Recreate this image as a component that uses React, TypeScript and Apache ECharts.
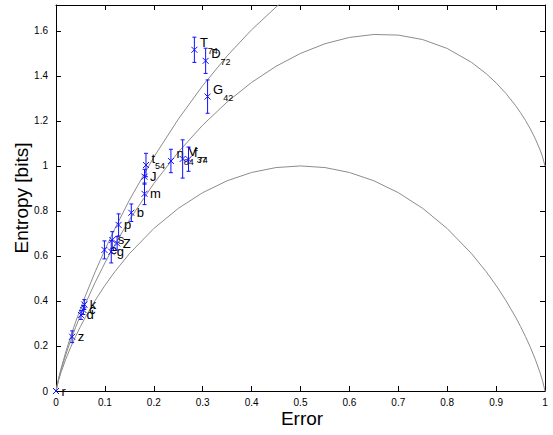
import React, { useEffect, useRef } from "react";
import * as echarts from "echarts";

// Theoretical bound curves (sampled values)
const errGrid = [0, 0.005, 0.01, 0.02, 0.03, 0.04, 0.05, 0.06, 0.08, 0.1, 0.12, 0.15, 0.2, 0.25, 0.3, 0.35, 0.4, 0.45, 0.5, 0.55, 0.6, 0.65, 0.7, 0.75, 0.8, 0.85, 0.88, 0.9, 0.92, 0.94, 0.95, 0.96, 0.97, 0.98, 0.99, 0.995, 1];
const boundM2 = [0, 0.04541, 0.08079, 0.14144, 0.19439, 0.24229, 0.2864, 0.32744, 0.40218, 0.469, 0.52936, 0.60984, 0.72193, 0.81128, 0.88129, 0.93407, 0.97095, 0.99277, 1, 0.99277, 0.97095, 0.93407, 0.88129, 0.81128, 0.72193, 0.60984, 0.52936, 0.469, 0.40218, 0.32744, 0.2864, 0.24229, 0.19439, 0.14144, 0.08079, 0.04541, 0];
const boundM3 = [0, 0.05041, 0.09079, 0.16144, 0.22439, 0.28229, 0.3364, 0.38744, 0.48218, 0.569, 0.64936, 0.75984, 0.92193, 1.06128, 1.18129, 1.28407, 1.37095, 1.44277, 1.5, 1.54277, 1.57095, 1.58407, 1.58129, 1.56128, 1.52193, 1.45984, 1.40936, 1.369, 1.32218, 1.26744, 1.2364, 1.20229, 1.16439, 1.12144, 1.07079, 1.04041, 1];
const boundM4 = [0, 0.05333, 0.09664, 0.17314, 0.24194, 0.30569, 0.36565, 0.42254, 0.52898, 0.6275, 0.71956, 0.84758, 1.03892, 1.20752, 1.35678, 1.48881, 1.60493, 1.706, 1.79248];

// Measured points
const labels = ["r", "z", "d", "c", "k", "e", "g", "s", "Z", "p", "b", "m", "J", "t", "n", "V", "f", "T", "D", "G"];
const subs = ["", "", "", "", "", "", "", "", "", "", "", "", "", "54", "84", "37", "74", "74", "72", "42"];
const errX = [0, 0.033, 0.051, 0.056, 0.058, 0.099, 0.113, 0.115, 0.125, 0.128, 0.154, 0.181, 0.181, 0.184, 0.235, 0.259, 0.271, 0.283, 0.306, 0.31];
const entY = [0, 0.241, 0.338, 0.36, 0.384, 0.627, 0.619, 0.671, 0.656, 0.738, 0.792, 0.876, 0.952, 1.004, 1.022, 1.031, 1.03, 1.516, 1.467, 1.308];
const entSd = [0, 0.026, 0.02, 0.02, 0.022, 0.04, 0.05, 0.037, 0.03, 0.049, 0.039, 0.048, 0.033, 0.052, 0.052, 0.085, 0.054, 0.056, 0.056, 0.074];

const xTicksMax = 1;
const yMax = 1.715;

const FONT = '"Liberation Sans", Arial, Helvetica, sans-serif';

export default function App() {
  const ref = useRef<HTMLDivElement>(null);
  useEffect(() => {
    document.body.style.margin = "0";
    const chart = echarts.init(ref.current!, undefined, { renderer: "svg" });
    const canvas = document.createElement("canvas");
    const ctx = canvas.getContext("2d")!;
    ctx.font = "13px " + FONT;
    const measure = (s: string) => ctx.measureText(s).width;

    const blue = "#1010ff";
    const gray = "#8c8c8c";

    const axisCommon = {
      axisLine: { show: true, onZero: false, lineStyle: { color: "#000", width: 1 } },
      axisTick: { show: true, inside: true, length: 5, lineStyle: { color: "#000" } },
      splitLine: { show: false },
    };

    const pts = errX.map((x, i) => [x, entY[i], entSd[i], i]);

    const pointSeries = {
      type: "custom",
      clip: false,
      silent: true,
      z: 5,
      itemStyle: { color: blue },
      emphasis: { disabled: true },
      data: pts,
      renderItem: (params: any, api: any) => {
        const xv = api.value(0), y = api.value(1), e = api.value(2), idx = api.value(3);
        const c = api.coord([xv, y]);
        const t = api.coord([xv, y + e]);
        const b = api.coord([xv, y - e]);
        const m = 3;
        const cap = 2;
        const segs: number[][][] = [];
        if (e > 0) {
          segs.push([[c[0], t[1]], [c[0], b[1]]]);
          segs.push([[c[0] - cap, t[1]], [c[0] + cap, t[1]]]);
          segs.push([[c[0] - cap, b[1]], [c[0] + cap, b[1]]]);
        }
        segs.push([[c[0] - m, c[1] - m], [c[0] + m, c[1] + m]]);
        segs.push([[c[0] - m, c[1] + m], [c[0] + m, c[1] - m]]);
        const children: any[] = segs.map((s) => ({
          type: "polyline",
          silent: true,
          shape: { points: s },
          style: { stroke: blue, lineWidth: 1, fill: "none" },
        }));
        const lab = labels[idx];
        const sub = subs[idx];
        const lx = c[0] + 5.5;
        if (sub) {
          children.push({ type: "text", silent: true, x: lx, y: c[1] - 7, style: { text: lab, font: "13px " + FONT, fill: "#000", align: "left", verticalAlign: "middle" } });
          children.push({ type: "text", silent: true, x: lx + measure(lab), y: c[1] + 1, style: { text: sub, font: "9px " + FONT, fill: "#000", align: "left", verticalAlign: "middle" } });
        } else {
          children.push({ type: "text", silent: true, x: lx, y: c[1], style: { text: lab, font: "13px " + FONT, fill: "#000", align: "left", verticalAlign: "middle" } });
        }
        return { type: "group", children };
      },
    };

    const option: any = {
      animation: false,
      grid: { left: 56, right: 8, top: 5, bottom: 44, containLabel: false },
      xAxis: [
        {
          type: "value", min: 0, max: xTicksMax, interval: 0.1, position: "bottom",
          ...axisCommon,
          axisLabel: { fontSize: 10, color: "#000", fontFamily: FONT, margin: 6 },
        },
        {
          type: "value", min: 0, max: xTicksMax, interval: 0.1, position: "top",
          ...axisCommon, axisLabel: { show: false },
        },
      ],
      yAxis: [
        {
          type: "value", min: 0, max: yMax, interval: 0.2, position: "left",
          ...axisCommon,
          axisLabel: {
            fontSize: 10, color: "#000", fontFamily: FONT, margin: 8,
            formatter: (v: number) => (Math.abs(v / 0.2 - Math.round(v / 0.2)) < 1e-6 ? String(+v.toFixed(1)) : ""),
          },
        },
        {
          type: "value", min: 0, max: yMax, interval: 0.2, position: "right",
          ...axisCommon, axisLabel: { show: false },
        },
      ],
      graphic: [
        { type: "text", x: 302, y: 418, silent: true, style: { text: "Error", font: "19px " + FONT, fill: "#000", align: "center", verticalAlign: "middle" } },
        { type: "text", x: 21, y: 198, rotation: Math.PI / 2, silent: true, style: { text: "Entropy [bits]", font: "19px " + FONT, fill: "#000", align: "center", verticalAlign: "middle" } },
      ],
      series: [
        { type: "line", silent: true, emphasis: { disabled: true }, data: errGrid.map((x, i) => [x, boundM2[i]]), showSymbol: false, lineStyle: { color: gray, width: 1 }, clip: true },
        { type: "line", silent: true, emphasis: { disabled: true }, data: errGrid.map((x, i) => [x, boundM3[i]]), showSymbol: false, lineStyle: { color: gray, width: 1 }, clip: true },
        { type: "line", silent: true, emphasis: { disabled: true }, data: boundM4.map((y, i) => [errGrid[i], y]), showSymbol: false, lineStyle: { color: gray, width: 1 }, clip: true },
        pointSeries,
      ],
    };
    chart.setOption(option);
    return () => chart.dispose();
  }, []);
  return <div ref={ref} style={{ width: 553, height: 435 }} />;
}
